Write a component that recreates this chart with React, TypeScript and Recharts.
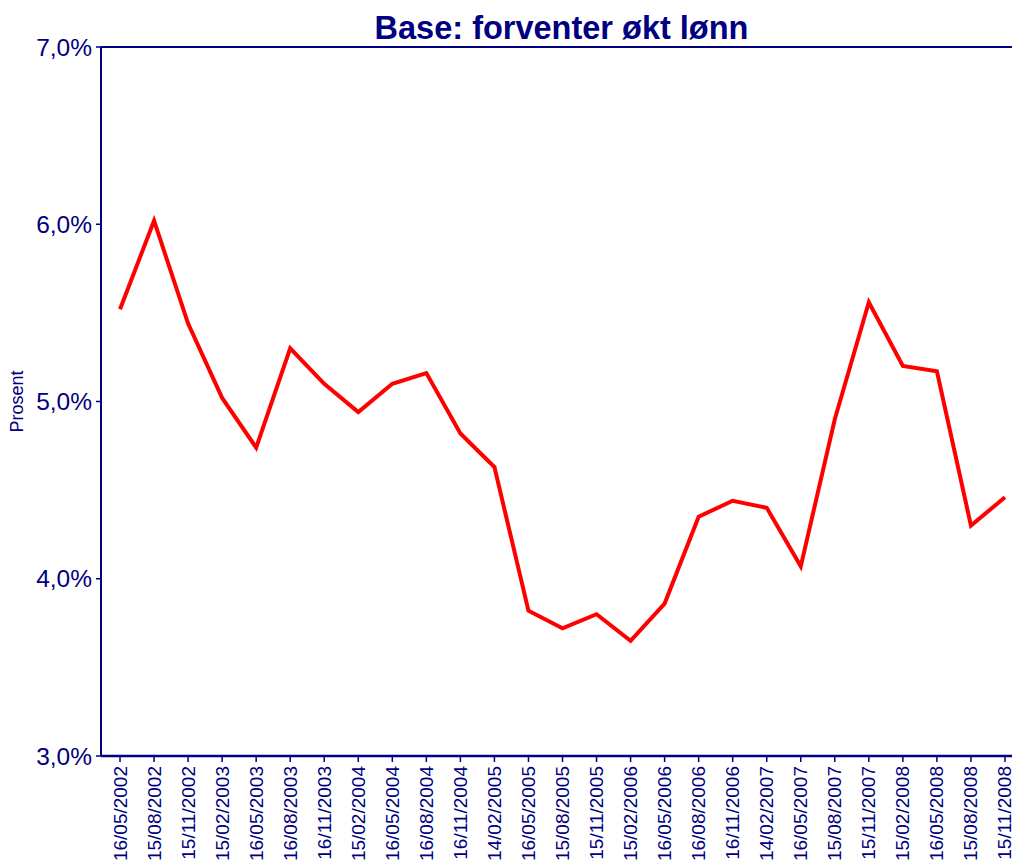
import React from 'react';
import { LineChart, Line, XAxis, YAxis, ReferenceLine, Label } from 'recharts';

const dates = [
  '16/05/2002', '15/08/2002', '15/11/2002', '15/02/2003', '16/05/2003', '16/08/2003',
  '16/11/2003', '15/02/2004', '16/05/2004', '16/08/2004', '16/11/2004', '14/02/2005',
  '16/05/2005', '15/08/2005', '15/11/2005', '15/02/2006', '16/05/2006', '16/08/2006',
  '16/11/2006', '14/02/2007', '16/05/2007', '15/08/2007', '15/11/2007', '15/02/2008',
  '16/05/2008', '15/08/2008', '15/11/2008',
];

const values = [
  5.52, 6.02, 5.44, 5.02, 4.74, 5.30,
  5.10, 4.94, 5.10, 5.16, 4.82, 4.63,
  3.82, 3.72, 3.80, 3.65, 3.86, 4.35,
  4.44, 4.40, 4.07, 4.90, 5.56, 5.20,
  5.17, 4.30, 4.46,
];

const yTicks = [3, 4, 5, 6, 7];
const title = 'Base: forventer økt lønn';
const yLabel = 'Prosent';

const data = dates.map((d, i) => ({ date: d, value: values[i] }));

const NAVY = '#000080';
const FONT = '"Liberation Sans", Arial, sans-serif';

const fmt = (v: number) => v.toFixed(1).replace('.', ',') + '%';

const XTick = (props: any) => {
  const { x, y, payload } = props;
  return (
    <text
      x={x}
      y={y}
      transform={`rotate(-90, ${x}, ${y})`}
      textAnchor="end"
      dominantBaseline="central"
      fill={NAVY}
      fontSize={19}
      fontFamily={FONT}
      dx={-2}
    >
      {payload.value}
    </text>
  );
};

export default function App() {
  return (
    <div
      style={{
        position: 'absolute',
        left: 0,
        top: 0,
        width: 1012,
        height: 860,
        overflow: 'hidden',
        background: '#fff',
        fontFamily: FONT,
      }}
    >
      <div
        style={{
          position: 'absolute',
          left: 101,
          width: 921,
          top: 10,
          textAlign: 'center',
          fontSize: 32.5,
          fontWeight: 'bold',
          color: NAVY,
          lineHeight: '36px',
          fontFamily: FONT,
        }}
      >
        {title}
      </div>
      <LineChart
        width={1022}
        height={900}
        data={data}
        margin={{ top: 47, right: 0, bottom: 0, left: 0 }}
      >
        <XAxis
          dataKey="date"
          scale="band"
          interval={0}
          height={144}
          padding={{ left: 2, right: 0 }}
          tick={<XTick />}
          tickLine={{ stroke: NAVY, strokeWidth: 1.5 }}
          tickSize={6}
          axisLine={{ stroke: NAVY, strokeWidth: 2.5 }}
        />
        <YAxis
          domain={[3, 7]}
          ticks={yTicks}
          width={101}
          tickFormatter={fmt}
          tick={{ fill: NAVY, fontSize: 24.5, fontFamily: FONT }}
          tickLine={{ stroke: NAVY, strokeWidth: 1.5 }}
          tickSize={5}
          tickMargin={4}
          axisLine={{ stroke: NAVY, strokeWidth: 2 }}
          allowDataOverflow
        >
          <Label
            value={yLabel}
            angle={-90}
            position="insideLeft"
            offset={17}
            style={{ fill: NAVY, fontSize: 18, fontFamily: FONT, textAnchor: 'middle' }}
          />
        </YAxis>
        <ReferenceLine y={7} stroke={NAVY} strokeWidth={2} />
        <Line
          type="linear"
          dataKey="value"
          stroke="#FF0000"
          strokeWidth={4}
          dot={false}
          isAnimationActive={false}
        />
      </LineChart>
    </div>
  );
}
